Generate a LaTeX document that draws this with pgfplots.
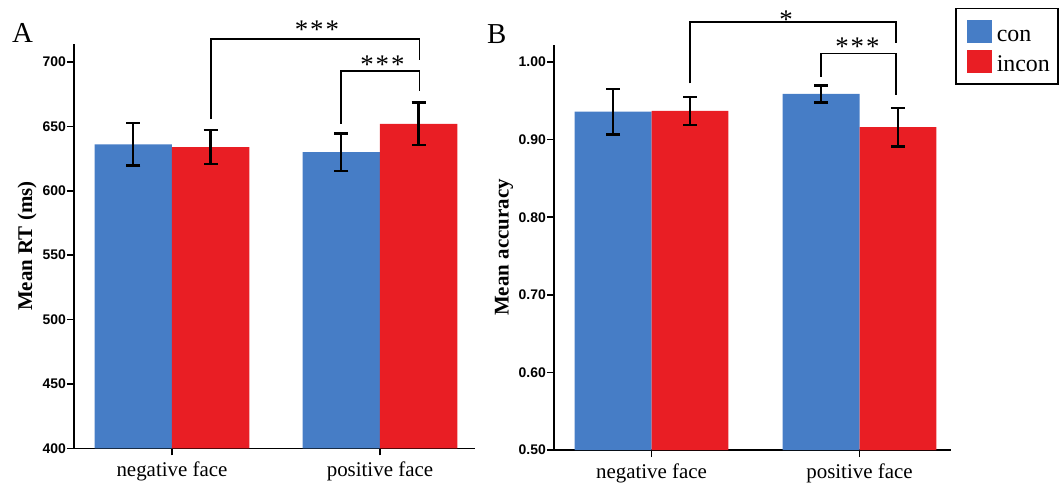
\documentclass[border=0pt]{standalone}
\usepackage{fontspec}
\setmainfont{Liberation Serif}
\newfontfamily\ticksans{Liberation Sans}
\usepackage{pgfplots}
\pgfplotsset{compat=1.18}
\definecolor{conblue}{RGB}{70,125,198}
\definecolor{inconred}{RGB}{233,30,36}

\pgfplotsset{
  panel/.style={
    scale only axis,
    axis x line=bottom, axis y line=left,
    axis line style={-, line width=1.6bp, black},
    major tick style={line width=1.6bp, black},
    major tick length=7bp,
    tick align=outside,
    clip mode=individual,
    xtick={0,1}, xticklabels={negative face, positive face},
    xticklabel style={font=\fontsize{21}{21}\selectfont, yshift=-3bp},
    yticklabel style={font=\ticksans\bfseries\fontsize{14}{14}\selectfont, inner sep=1bp},
    /pgf/number format/assume math mode=true,
    ylabel style={font=\bfseries\fontsize{21}{21}\selectfont, anchor=center},
  },
  sqlegend/.style={legend image code/.code={%
    \path[fill=none, draw=none] (0bp,-1bp) rectangle (33bp,22bp);
    \fill[##1] (5bp,-1bp) rectangle (30bp,22bp);}},
  errstyle/.style={
    error bars/.cd, y dir=both, y explicit,
    error bar style={line width=2.4bp, black},
    error mark options={line width=2.4bp, black, mark size=7bp, rotate=90},
    /pgfplots/.cd,
  },
}

\begin{document}
\begin{tikzpicture}
\path[use as bounding box] (0bp,0bp) rectangle (1064bp,-483bp);

% Panel A
\begin{axis}[panel,
  at={(74bp,-448.3bp)}, anchor=south west,
  width=401bp, height=404.3bp,
  xmin=-0.471, xmax=1.457, ymin=400, ymax=714,
  ytick={400,450,...,700},
  ylabel={Mean RT (ms)},
  ylabel style={at={(axis description cs:-0.117,0.5)}},
]
% con bars (x = category index - 0.186)
\addplot[ybar, bar width=0.372, bar shift=0, fill=conblue, draw=none, errstyle]
  coordinates {(-0.186,636) +- (0,16.5) (0.814,630) +- (0,14.5)};
% incon bars (x = category index + 0.186)
\addplot[ybar, bar width=0.372, bar shift=0, fill=inconred, draw=none, errstyle]
  coordinates {(0.186,634) +- (0,13) (1.186,652) +- (0,16.5)};
\draw[line width=1.6bp] (axis cs:0.1875,655.7) |- (axis cs:1.19,718.1) -- (axis cs:1.19,701.8);
\draw[line width=1.6bp] (axis cs:0.8125,652.1) |- (axis cs:1.19,693.2) -- (axis cs:1.19,677.2);
\node[anchor=base, inner sep=0pt, font=\fontsize{27}{27}\selectfont] at (axis cs:0.697,718.5) {*\kern2bp*\kern2bp*};
\node[anchor=base, inner sep=0pt, font=\fontsize{27}{27}\selectfont] at (axis cs:1.012,691.3) {*\kern2bp*\kern2bp*};
\end{axis}

% Panel B
\begin{axis}[panel,
  at={(554bp,-450bp)}, anchor=south west,
  width=397bp, height=405bp,
  xmin=-0.469, xmax=1.440, ymin=0.5, ymax=1.022,
  ytick={0.5,0.6,...,1.0},
  yticklabel={\pgfmathprintnumber[fixed, fixed zerofill, precision=2]{\tick}},
  ylabel={Mean accuracy},
  ylabel style={at={(axis description cs:-0.126,0.5)}},
  legend style={at={(1.0101,1.0914)}, anchor=north west, draw=black, line width=1.5bp,
    inner xsep=6bp, inner ysep=11.25bp, font=\fontsize{24}{24}\selectfont,
    row sep=7bp, nodes={inner xsep=2bp, inner ysep=0bp, text depth=0pt},
    cells={anchor=base west}},
]
\addplot[ybar, bar width=0.37, bar shift=0, fill=conblue, draw=none, sqlegend, errstyle]
  coordinates {(-0.185,0.936) +- (0,0.0295) (0.815,0.959) +- (0,0.011)};
\addlegendentry{con}
\addplot[ybar, bar width=0.37, bar shift=0, fill=inconred, draw=none, sqlegend, errstyle]
  coordinates {(0.185,0.937) +- (0,0.018) (1.185,0.916) +- (0,0.025)};
\addlegendentry{incon}
\draw[line width=1.6bp] (axis cs:0.185,0.9726) |- (axis cs:1.175,1.0519) -- (axis cs:1.175,1.0249);
\draw[line width=1.6bp] (axis cs:0.815,0.981) |- (axis cs:1.175,1.0112) -- (axis cs:1.175,0.9575);
\node[anchor=base, inner sep=0pt, font=\fontsize{27}{27}\selectfont] at (axis cs:0.647,1.0432) {*};
\node[anchor=base, inner sep=0pt, font=\fontsize{27}{27}\selectfont] at (axis cs:0.99,1.009) {*\kern2bp*\kern2bp*};
\end{axis}

\node[anchor=base west, inner sep=0pt, font=\fontsize{29}{29}\selectfont] at (12bp,-42bp) {A};
\node[anchor=base west, inner sep=0pt, font=\fontsize{29}{29}\selectfont] at (487bp,-43bp) {B};
\end{tikzpicture}
\end{document}
